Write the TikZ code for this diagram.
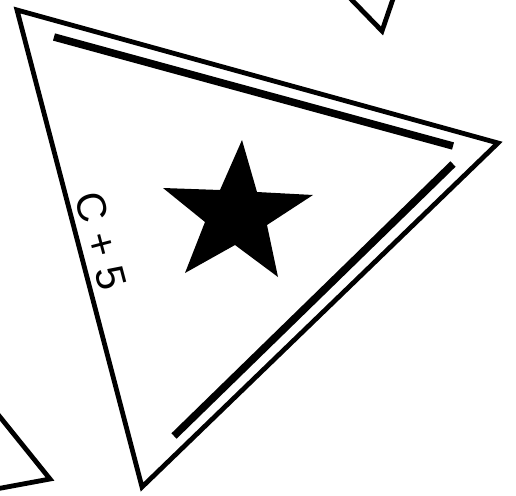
\documentclass[tikz,border=0pt]{standalone}
\usepackage{fontspec}
\setmainfont{Liberation Sans}
\begin{document}
\begin{tikzpicture}[x=1pt,y=-1pt,
  edge/.style={line width=4.8pt,line join=miter},
  bar/.style={line width=7.5pt,line cap=butt},
  lbl/.style={font=\fontsize{41}{41}\selectfont,inner sep=0pt}]
\useasboundingbox (0,0) rectangle (516,495);
% main triangle
\coordinate (A) at (17,10);
\coordinate (B) at (498,143);
\coordinate (C) at (142,487);
\draw[edge] (A) -- (B) -- (C) -- cycle;
% partial triangles
\coordinate (p1) at (348,-4);
\coordinate (p2) at (382,31);
\coordinate (p3) at (394,-4);
\draw[edge] (p1) -- (p2) -- (p3);
\coordinate (q1) at (-4,412);
\coordinate (q2) at (50,479);
\coordinate (q3) at (-4,489);
\draw[edge] (q1) -- (q2) -- (q3);
% bars
\coordinate (b1s) at (54,37);
\coordinate (b1e) at (453,146);
\draw[bar] (b1s) -- (b1e);
\coordinate (b2s) at (453,164);
\coordinate (b2e) at (174,436);
\draw[bar] (b2s) -- (b2e);
% star
\fill (242,140) -- (257,192) -- (313,195) -- (267,225) -- (278,277) -- (235,245) -- (185,273) -- (205,222) -- (163,188) -- (220,190) -- cycle;
% label
\node[lbl,rotate=-75.3] (t) at (101,241) {C + 5};
\end{tikzpicture}
\end{document}
